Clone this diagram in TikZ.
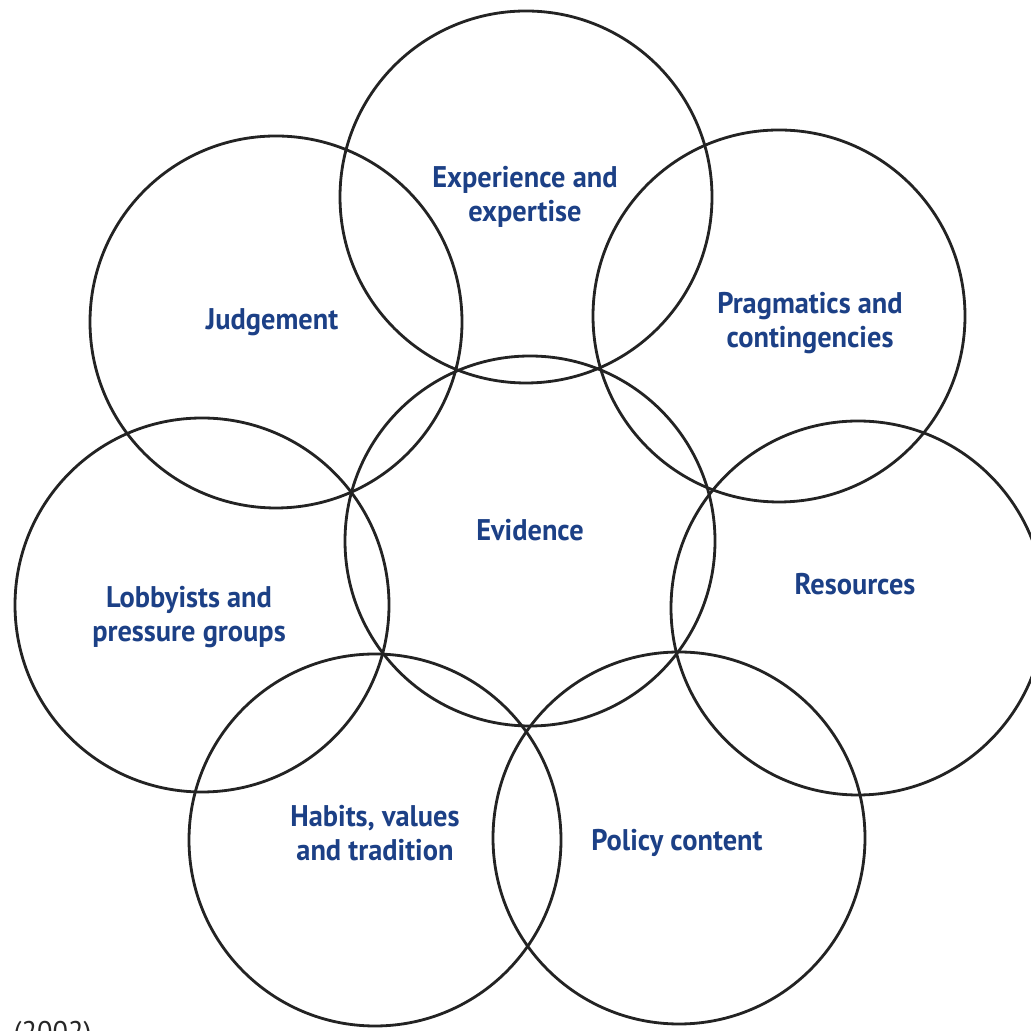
\documentclass[tikz,border=0pt]{standalone}
\usepackage{fontspec}
\usepackage{tikz}
\newfontfamily\ringfont[FakeStretch=0.95]{PT Sans}
\definecolor{labelblue}{RGB}{28,64,134}
\definecolor{ringgrey}{RGB}{35,35,35}
\tikzset{
	ring/.style={line width=0.8pt, color=ringgrey},
	lbl/.style={align=center, text=labelblue, font=\ringfont\bfseries\fontsize{8.5}{9.7}\selectfont}
}

\begin{document}
\begin{tikzpicture}
		%%%%% START %%%%%
		
		\useasboundingbox[fill=white] (0, 0) rectangle (10.30, 10.31);
		
		\draw[ring] (5.30, 4.90) circle (1.85);
		
		\draw[ring] (5.26, 8.34) circle (1.86);
		\draw[ring] (2.76, 7.09) circle (1.86);
		\draw[ring] (7.79, 7.15) circle (1.86);
		
		\draw[ring] (2.02, 4.26) circle (1.87);
		\draw[ring] (8.58, 4.23) circle (1.87);
		
		\draw[ring] (3.75, 1.91) circle (1.86);
		\draw[ring] (6.79, 1.93) circle (1.86);
		
		\node[lbl] (evidence) at (5.30, 5.01) {Evidence};
		\node[lbl] (experience) at (5.25, 8.34) {Experience and\\expertise};
		\node[lbl] (judgement) at (2.72, 7.09) {Judgement};
		\node[lbl] (pragmatics) at (8.10, 7.08) {Pragmatics and\\contingencies};
		\node[lbl] (lobbyists) at (1.89, 4.14) {Lobbyists and\\pressure groups};
		\node[lbl] (resources) at (8.55, 4.47) {Resources};
		\node[lbl] (habits) at (3.75, 1.98) {Habits, values\\and tradition};
		\node[lbl] (policy) at (6.77, 1.88) {Policy content};
		
		\node[anchor=north west, inner sep=0pt, text=black!85, font=\ringfont\fontsize{8.5}{9.7}\selectfont] (source) at (0.13, 0.10) {(2002)};
		
		%%%%% END %%%%%
	\end{tikzpicture}
\end{document}
